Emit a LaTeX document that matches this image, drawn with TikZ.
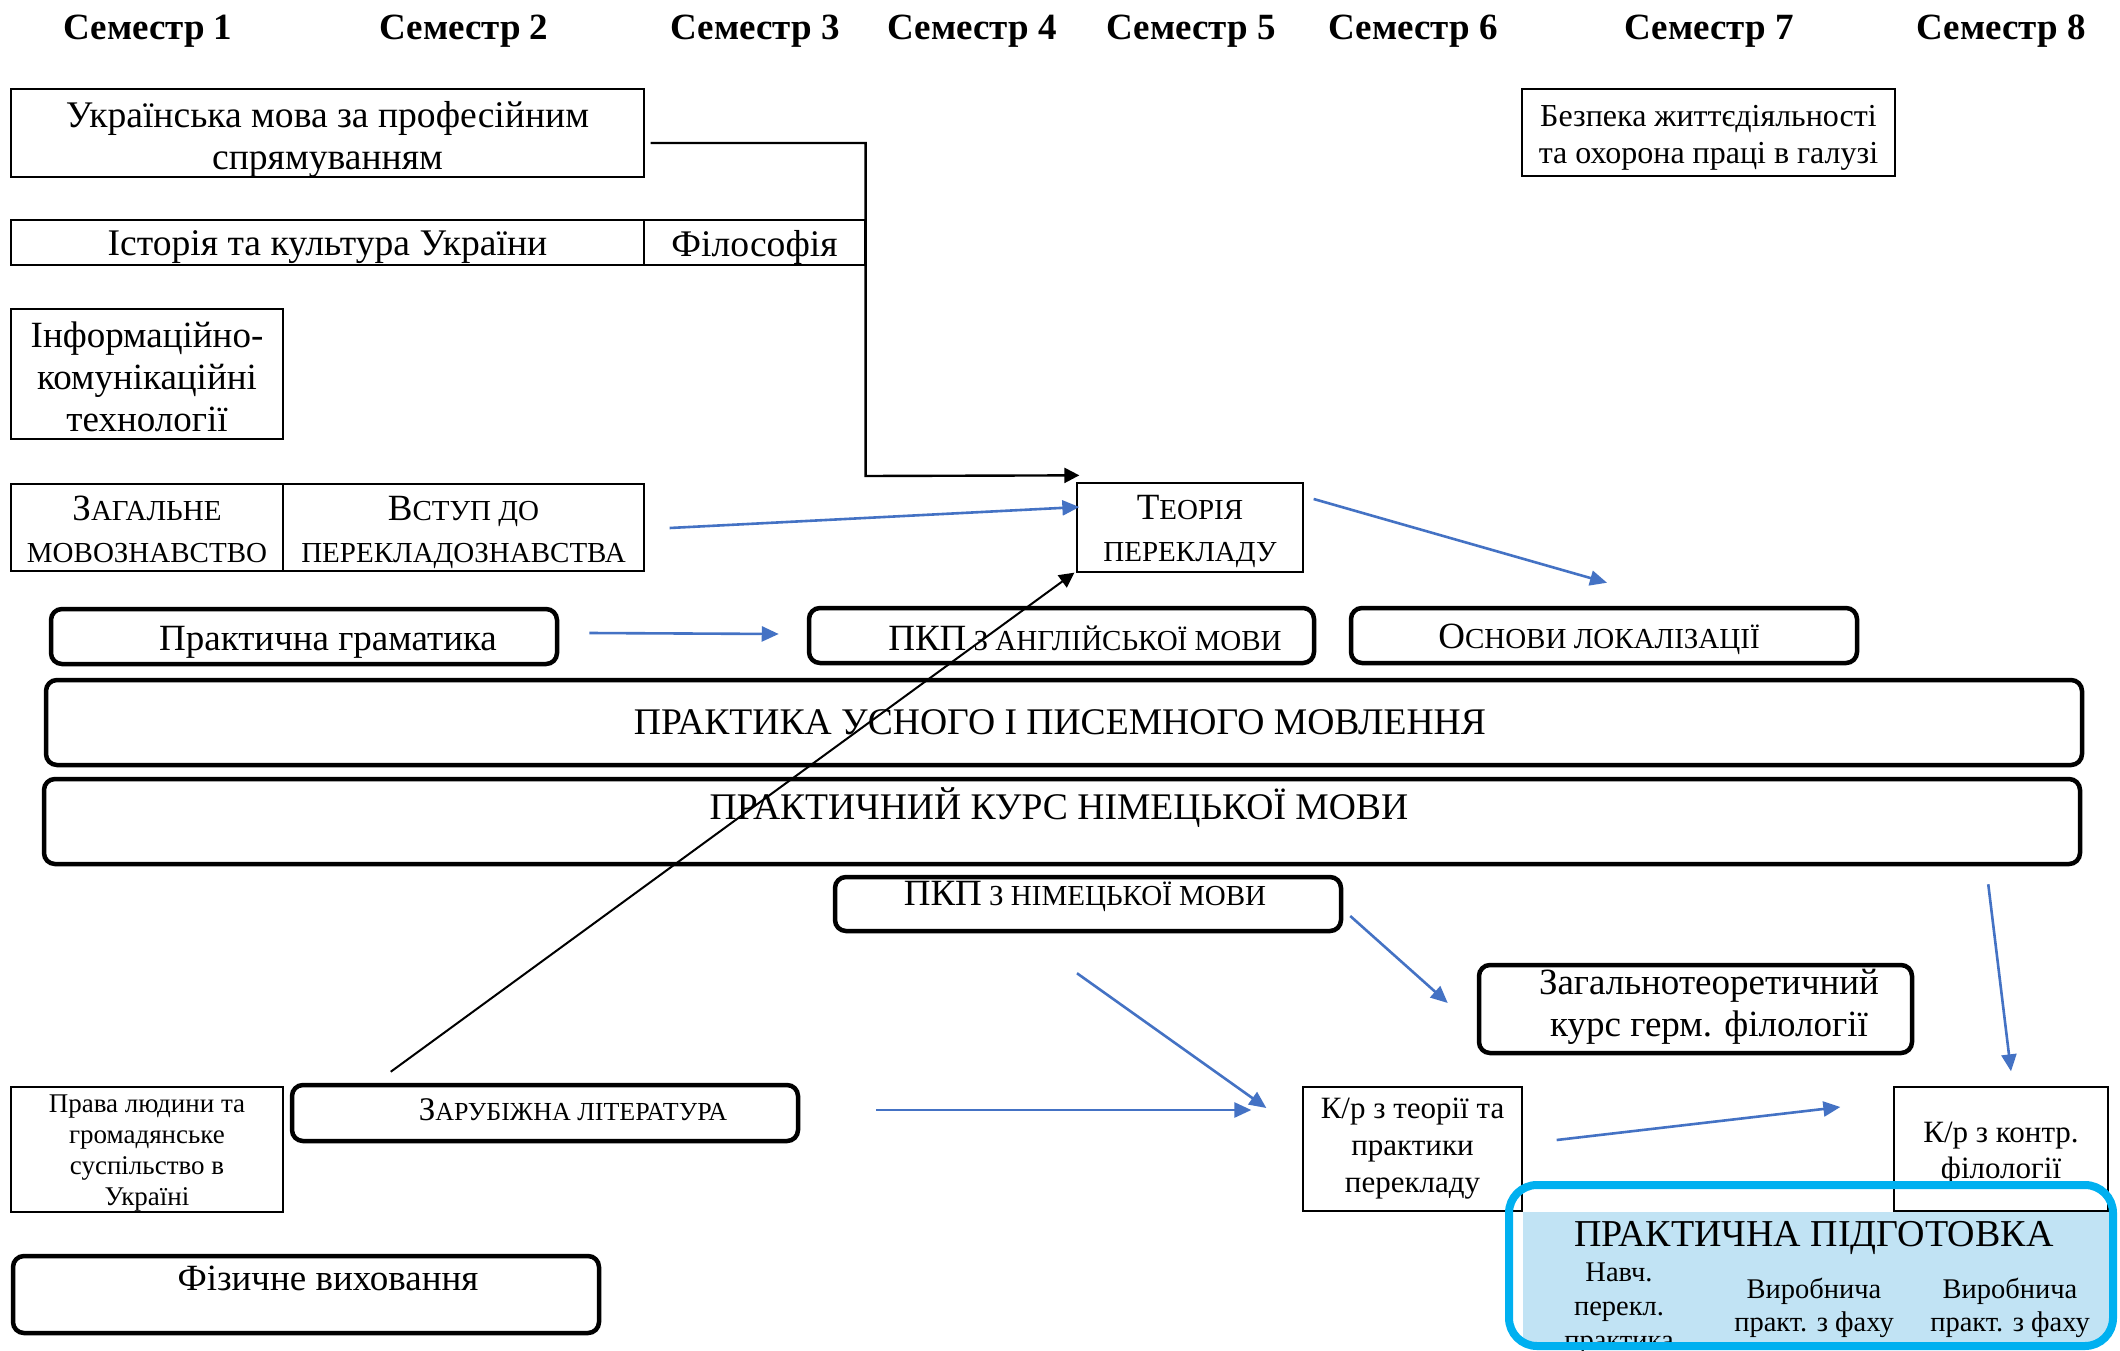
\documentclass[tikz,border=0pt]{standalone}
\usepackage{fontspec}
\setmainfont{Liberation Serif}
\usetikzlibrary{arrows.meta,calc}
\definecolor{arrblue}{RGB}{68,114,196}
\definecolor{ppcyan}{RGB}{0,176,240}
\definecolor{ppfill}{RGB}{193,227,244}
\newcommand\fsz[2]{\fontsize{#1pt}{#2pt}\selectfont}
\newcommand\mybig{\fsz{37}{42}}
\newcommand\mysml{\fsz{29}{42}}
\begin{document}
\begin{tikzpicture}[x=1pt,y=-1pt,
 thinbox/.style={draw, line width=1.3pt, inner sep=0pt, fill=white},
 thickbox/.style={draw, line width=4.5pt, rounded corners=11pt, inner sep=0pt, fill=white},
 hdr/.style={font=\bfseries\fsz{37}{42}, inner sep=0pt},
 txt/.style={inner sep=0pt, align=center},
 barrow/.style={draw=arrblue, line width=2.6pt, -{Triangle[length=17pt,width=15pt]}},
 karrow/.style={draw=black, line width=2.4pt, -{Triangle[length=15pt,width=15pt]}},
]
\useasboundingbox (0,0) rectangle (2120,1351);
\fill[white] (0,0) rectangle (2120,1351);

% headers
\node[hdr] (s1) at (148,31) {Семестр 1};
\node[hdr] (s2) at (464,31) {Семестр 2};
\node[hdr] (s3) at (755,31) {Семестр 3};
\node[hdr] (s4) at (972,31) {Семестр 4};
\node[hdr] (s5) at (1191,31) {Семестр 5};
\node[hdr] (s6) at (1413,31) {Семестр 6};
\node[hdr] (s7) at (1709,31) {Семестр 7};
\node[hdr] (s8) at (2001,31) {Семестр 8};

% thin boxes
\node[thinbox, minimum width=633, minimum height=88] (ukr) at (327.5,133) {};
\node[txt, font=\fsz{37.6}{42}] (ukrt) at ($(ukr)+(0,7)$) {Українська мова за професійним\\спрямуванням};
\node[thinbox, minimum width=633, minimum height=45] (ist) at (327.5,242.5) {};
\node[txt, font=\fsz{37.6}{42}] (istt) at ($(ist)+(0,5)$) {Історія та культура України};
\node[thinbox, minimum width=221, minimum height=45] (fil) at (754.5,242.5) {};
\node[txt, font=\fsz{37.6}{42}] (filt) at ($(fil)+(0,5)$) {Філософія};
\node[thinbox, minimum width=272, minimum height=130] (inf) at (147,374) {};
\node[txt, font=\fsz{37}{42}] (inft) at ($(inf)+(0,3)$) {Інформаційно-\\комунікаційні\\технології};
\node[thinbox, minimum width=272, minimum height=87] (zag) at (147,527.5) {};
\node[txt, font=\mysml] (zagtx) at ($(zag)+(0,2)$) {{\mybig З}АГАЛЬНЕ\\МОВОЗНАВСТВО};
\node[thinbox, minimum width=361, minimum height=87] (vst) at (463.5,527.5) {};
\node[txt, font=\mysml] (vstt) at ($(vst)+(0,5)$) {{\mybig В}СТУП ДО\\ПЕРЕКЛАДОЗНАВСТВА};
\node[thinbox, minimum width=226, minimum height=89] (teor) at (1190,527.5) {};
\node[txt, font=\mysml] (teort) at ($(teor)+(0,4)$) {{\mybig Т}ЕОРІЯ\\ПЕРЕКЛАДУ};
\node[thinbox, minimum width=373, minimum height=87] (bezp) at (1708.5,132.5) {};
\node[txt, font=\fsz{32}{37}] (bezpt) at ($(bezp)+(0,5)$) {Безпека життєдіяльності\\та охорона праці в галузі};
\node[thinbox, minimum width=272, minimum height=125] (prav) at (147,1149.5) {};
\node[txt, font=\fsz{27}{31}] (pravt) at ($(prav)+(0,4)$) {Права людини та\\громадянське\\суспільство в\\Україні};
\node[thinbox, minimum width=219, minimum height=124] (krt) at (1412.5,1149) {};
\node[txt, font=\fsz{31}{37}] (krtt) at ($(krt)+(0,0)$) {К/р з теорії та\\практики\\перекладу};
\node[thinbox, minimum width=214, minimum height=124] (krk) at (2001,1149) {};
\node[txt, font=\fsz{31}{36}] (krkt) at ($(krk)+(0,5)$) {К/р з контр.\\філології};

% thick rounded boxes
\node[thickbox, minimum width=506, minimum height=55] (gram) at (304,636.5) {};
\node[txt, font=\fsz{37}{42}] (gramt) at ($(gram)+(24,5.5)$) {Практична граматика};
\node[thickbox, minimum width=505, minimum height=55] (pkpa) at (1061.5,635.5) {};
\node[txt, font=\mysml] (pkpat) at ($(pkpa)+(23.5,2.5)$) {{\mybig ПКП} З АНГЛІЙСЬКОЇ МОВИ};
\node[thickbox, minimum width=506, minimum height=55] (osn) at (1604,635.5) {};
\node[txt, font=\mysml] (osnt) at ($(osn)+(-5,4)$) {{\mybig О}СНОВИ ЛОКАЛІЗАЦІЇ};
\node[thickbox, minimum width=2036, minimum height=85] (pus) at (1064,722.5) {};
\node[txt, font=\fsz{37.6}{44}] (pust) at ($(pus)+(-4,0)$) {ПРАКТИКА УСНОГО І ПИСЕМНОГО МОВЛЕННЯ};
\node[thickbox, minimum width=2036, minimum height=85] (pkn) at (1062,821.5) {};
\node[txt, font=\fsz{37.6}{42}] (pknt) at ($(pkn)+(-3,-13.5)$) {ПРАКТИЧНИЙ КУРС НІМЕЦЬКОЇ МОВИ};
\node[thickbox, minimum width=506, minimum height=54] (pkpn) at (1088,904) {};
\node[txt, font=\mysml] (pkpnt) at ($(pkpn)+(-3,-8)$) {{\mybig ПКП} З НІМЕЦЬКОЇ МОВИ};
\node[thickbox, minimum width=433, minimum height=88] (zagt) at (1695.5,1009) {};
\node[txt, font=\fsz{37}{42}] (zagtt) at ($(zagt)+(13.5,-2)$) {Загальнотеоретичний\\курс герм. філології};
\node[thickbox, minimum width=506, minimum height=56] (zar) at (545,1113) {};
\node[txt, font=\fsz{26}{30}] (zart) at ($(zar)+(28,-3)$) {{\fsz{33}{36}З}АРУБІЖНА ЛІТЕРАТУРА};
\node[thickbox, minimum width=586, minimum height=77] (fiz) at (306,1294.5) {};
\node[txt, font=\fsz{37}{42}] (fizt) at ($(fiz)+(22,-16.5)$) {Фізичне виховання};

% practical training
\begin{scope}
\clip[rounded corners=28pt] (1509,1185) rectangle (2113,1346);
\fill[ppfill] (1523,1212) rectangle (2113,1351);
\end{scope}
\node[txt, font=\fsz{38}{42}] (ppt) at (1814,1238) {ПРАКТИЧНА ПІДГОТОВКА};
\node[txt, font=\fsz{28.5}{34}] (ppa) at (1619,1309) {Навч.\\перекл.\\практика};
\node[txt, font=\fsz{28.5}{33}] (ppb) at (1814,1308) {Виробнича\\практ. з фаху};
\node[txt, font=\fsz{28.5}{33}] (ppc) at (2010,1308) {Виробнича\\практ. з фаху};
\node[draw=ppcyan, line width=8pt, rounded corners=28pt, minimum width=604, minimum height=161, inner sep=0pt] (pp) at (1811,1265.5) {};

% black connectors
\draw[karrow] ($(ukr.east)+(6,10)$) -- ++(215,0) -- ++(0,333) -- ($(teor.north west)+(3,-7)$);
\draw[karrow, line width=2pt] ($(zar.north west)+(101,-11)$) -- ($(teor.south west)+(-2,0)$);

% blue connectors
\draw[barrow] ($(vst.east)+(25,0.5)$) -- ($(teor.west)+(3,-20.5)$);
\draw[barrow] ($(teor.east)+(10,-28.5)$) -- ($(osn.north)+(3,-23)$);
\draw[barrow] ($(gram.east)+(30,-3.5)$) -- ($(pkpa.west)+(-28,-1.5)$);
\draw[barrow] ($(pkpn.south)+(-11,40)$) -- ($(krt.west)+(-36,-41)$);
\draw[barrow] ($(zar.east)+(76,-3)$) -- ($(krt.west)+(-51,-39)$);
\draw[barrow] ($(pkpn.east)+(7,12)$) -- ($(zagt.west)+(-29,-6)$);
\draw[barrow] ($(pkn.south east)+(-94,18)$) -- ($(krk.north)+(10,-15)$);
\draw[barrow] ($(krt.east)+(34,-9)$) -- ($(krk.west)+(-53,-42)$);
\end{tikzpicture}
\end{document}
